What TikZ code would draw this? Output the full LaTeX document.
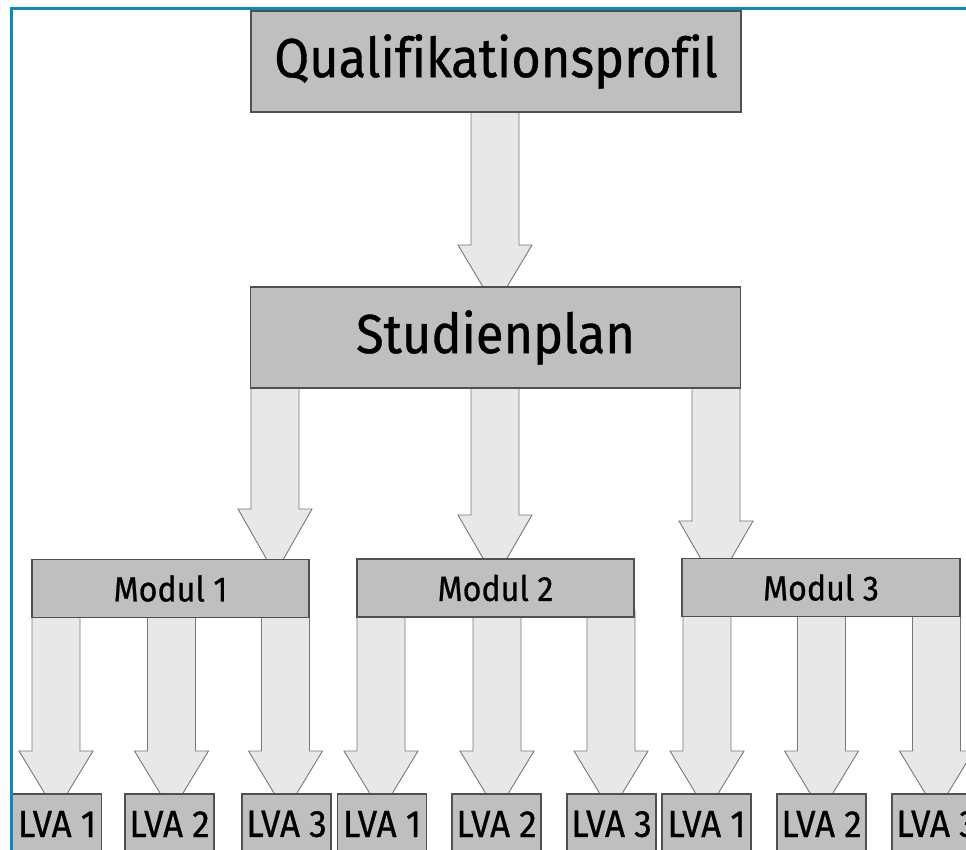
\documentclass[tikz,border=0pt]{standalone}
\usepackage{fontspec}
\setmainfont[FakeStretch=0.92,FakeBold=0.7,Ligatures=NoCommon]{Fira Sans}
\definecolor{frameblue}{RGB}{11,138,193}
\definecolor{boxfill}{RGB}{191,191,191}
\definecolor{boxline}{RGB}{80,80,80}
\definecolor{arrfill}{RGB}{232,232,232}
\definecolor{arrline}{RGB}{120,120,120}
\tikzset{
  box/.style={draw=boxline, fill=boxfill, line width=1.2pt, inner sep=0pt, text=black},
  bigbox/.style={box, minimum width=490pt, minimum height=101pt, font=\fontsize{55}{60}\selectfont},
  modbox/.style={box, minimum width=277pt, minimum height=58pt, font=\fontsize{35}{40}\selectfont},
  lvabox/.style={box, minimum width=89pt, minimum height=60pt, font=\fontsize{38}{42}\selectfont},
  fatarrow/.style={draw=arrline, fill=arrfill, line width=0.9pt, line join=miter},
}
% #1 x centre, #2 top of shaft, #3 start of head, #4 tip
\newcommand\fatarr[4]{%
  \draw[fatarrow] (#1-24,#2) -- (#1-24,#3) -- (#1-37,#3) -- (#1,#4) -- (#1+37,#3) -- (#1+24,#3) -- (#1+24,#2) -- cycle;}
\begin{document}
\begin{tikzpicture}[x=1pt,y=-1pt]
\useasboundingbox (0,0) rectangle (966,850);
\begin{scope}
\clip (0,0) rectangle (966,850);
% connectors (drawn first, boxes cover their ends)
\fatarr{495}{100}{245}{307}
\fatarr{275}{380}{509}{574}
\fatarr{495}{380}{515}{579}
\fatarr{716}{380}{521}{585}
\foreach \xc in {56,171.5,285.5,381,497,611,707,821.5,936.5}
  {\fatarr{\xc}{610}{751}{812}}
% boxes
\node[bigbox] (q) at (496,61.5) {Qualifikationsprofil};
\node[bigbox] (s) at (495.5,337.5) {Studienplan};
\node[modbox] (m1) at (170.5,588.5) {Modul 1};
\node[modbox] (m2) at (495.5,588) {Modul 2};
\node[modbox, minimum width=278pt] (m3) at (821,587.5) {Modul 3};
\foreach \xc/\t/\n in {57/1/a1,169.5/2/a2,286.5/3/a3,382/1/b1,496.5/2/b2,611.5/3/b3,706.5/1/c1,821.5/2/c2,936.5/3/c3}
  {\node[lvabox] (\n) at (\xc,824) {LVA \t};}
% frame
\draw[frameblue, line width=2.8pt] (11.3,900) -- (11.3,8.7) -- (1000,8.7);
\end{scope}
\end{tikzpicture}
\end{document}
